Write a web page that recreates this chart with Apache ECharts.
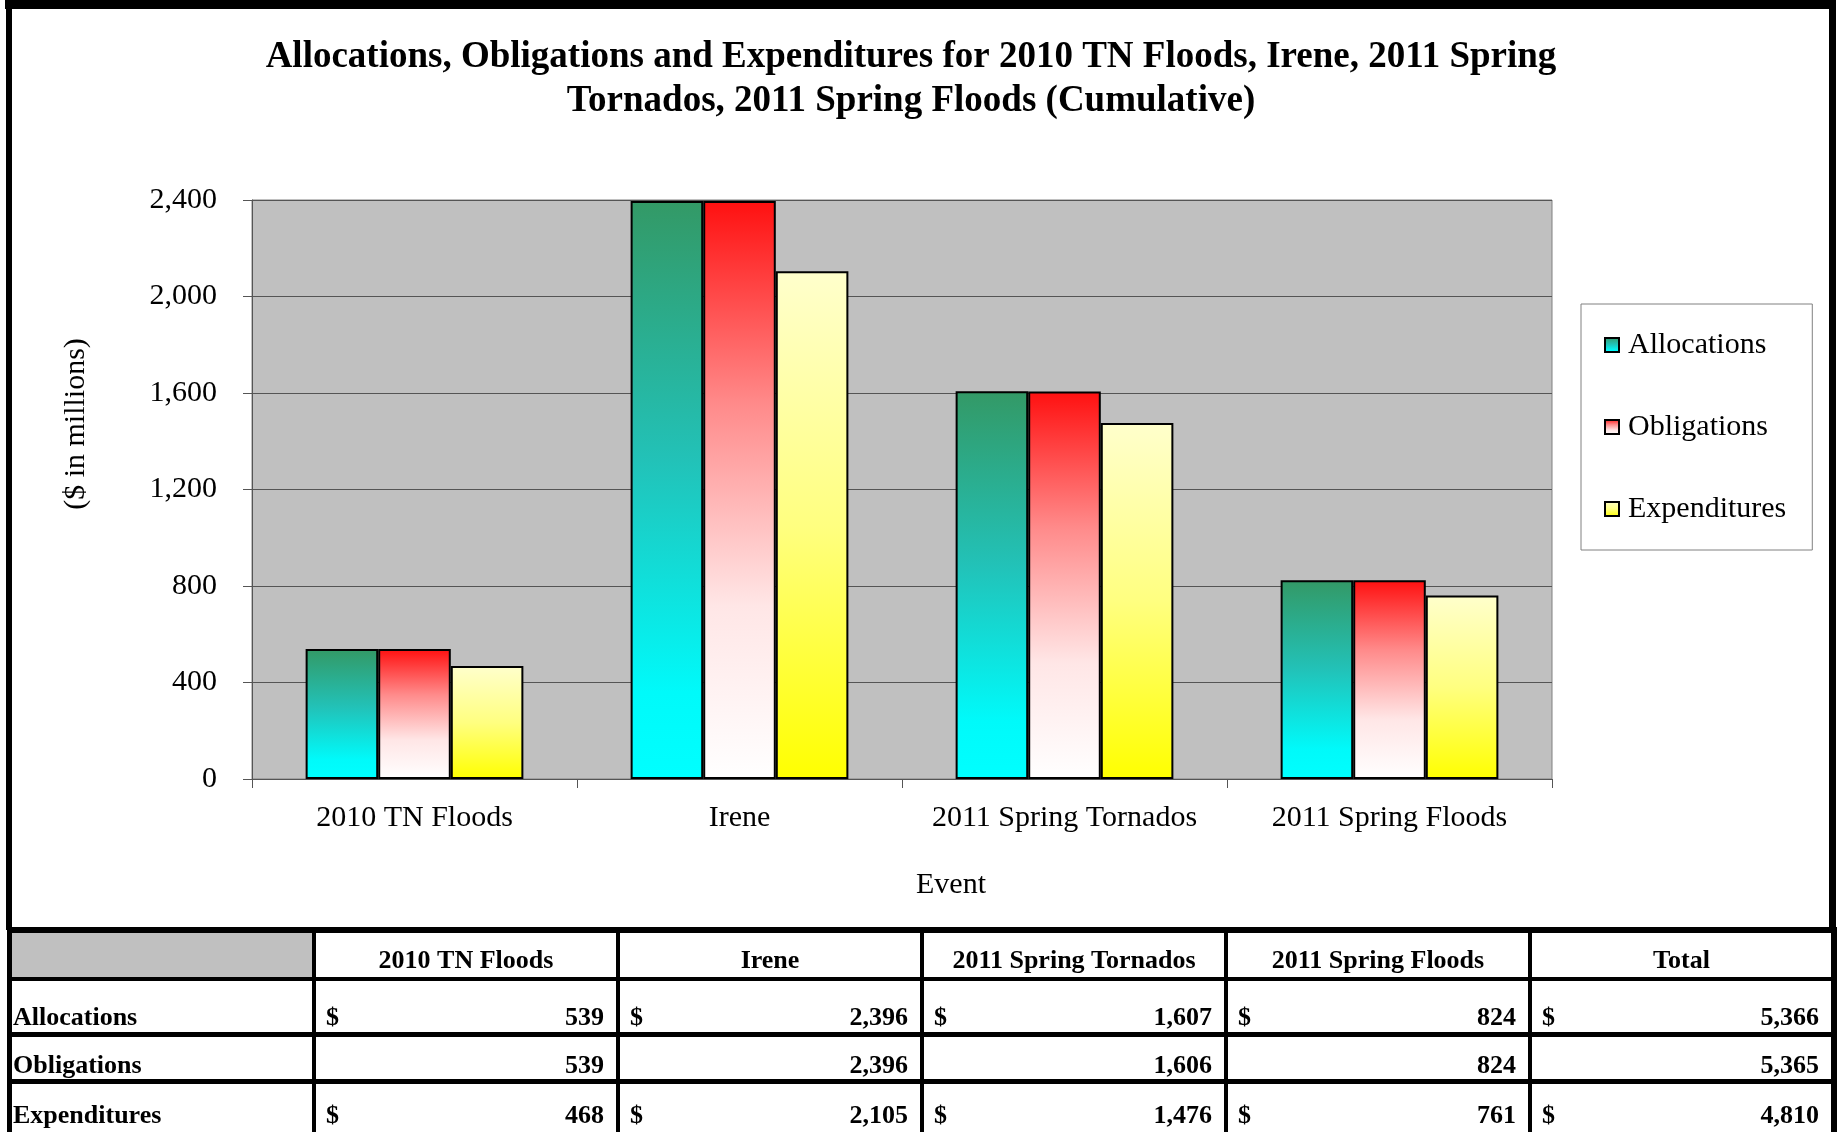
<!DOCTYPE html>
<html>
<head>
<meta charset="utf-8">
<script src="https://cdn.jsdelivr.net/npm/echarts@6/dist/echarts.min.js"></script>
<style>
  html, body { margin: 0; padding: 0; background: #fff; }
  #chart { width: 1837px; height: 1132px; }
</style>
</head>
<body>
<div id="chart"></div>
<script>
var events = ["2010 TN Floods", "Irene", "2011 Spring Tornados", "2011 Spring Floods"];
var allocations = [539, 2396, 1607, 824];
var obligations = [539, 2396, 1606, 824];
var expenditures = [468, 2105, 1476, 761];
var totals = [5366, 5365, 4810]; // Total column: allocations, obligations, expenditures
var tableHeaders = ["2010 TN Floods", "Irene", "2011 Spring Tornados", "2011 Spring Floods", "Total"];
var rowNames = ["Allocations", "Obligations", "Expenditures"];
var yTicks = [0, 400, 800, 1200, 1600, 2000, 2400];

var serif = "'Times New Roman', 'Liberation Serif', serif";

function fmt(v) {
  return v.toLocaleString("en-US");
}

function grad(stops) {
  return new echarts.graphic.LinearGradient(0, 0, 0, 1, stops.map(function (s) {
    return { offset: s[0], color: s[1] };
  }));
}

// table under the chart, drawn with graphic elements
var colEdges = [[7, 12], [312, 316], [616, 620], [920, 924], [1224, 1228], [1528, 1532], [1831, 1837]];
var rowText = [1018, 1066, 1116];
var tableEls = [];

tableEls.push({ type: "rect", shape: { x: 12, y: 933, width: 300, height: 44 }, style: { fill: "#C0C0C0" } });
[[927, 6], [977, 4], [1032, 5], [1079, 5]].forEach(function (l) {
  tableEls.push({ type: "rect", shape: { x: 7, y: l[0], width: 1830, height: l[1] }, style: { fill: "#000" } });
});
colEdges.forEach(function (c) {
  tableEls.push({ type: "rect", shape: { x: c[0], y: 927, width: c[1] - c[0], height: 205 }, style: { fill: "#000" } });
});

var boldFont = "bold 26px " + serif;
tableHeaders.forEach(function (h, i) {
  var left = colEdges[i + 1][1], right = colEdges[i + 2][0];
  tableEls.push({ type: "text", style: { text: h, x: (left + right) / 2, y: 961, align: "center", verticalAlign: "middle", font: boldFont, fill: "#000" } });
});

var rows = [allocations, obligations, expenditures];
rowNames.forEach(function (name, r) {
  tableEls.push({ type: "text", style: { text: name, x: 13, y: rowText[r], align: "left", verticalAlign: "middle", font: boldFont, fill: "#000" } });
  var vals = rows[r].concat([totals[r]]);
  vals.forEach(function (v, i) {
    var left = colEdges[i + 1][1], right = colEdges[i + 2][0];
    if (r != 1) {
      tableEls.push({ type: "text", style: { text: "$", x: left + 10, y: rowText[r], align: "left", verticalAlign: "middle", font: boldFont, fill: "#000" } });
    }
    tableEls.push({ type: "text", style: { text: fmt(v), x: right - 12, y: rowText[r], align: "right", verticalAlign: "middle", font: boldFont, fill: "#000" } });
  });
});

var myChart = echarts.init(document.getElementById("chart"), null, { renderer: "canvas" });

var option = {
  backgroundColor: "#fff",
  animation: false,
  textStyle: { fontFamily: serif, color: "#000" },
  title: {
    text: "Allocations, Obligations and Expenditures for 2010 TN Floods, Irene, 2011 Spring\nTornados, 2011 Spring Floods (Cumulative)",
    left: 911,
    textAlign: "center",
    top: 35,
    padding: 0,
    textStyle: { fontFamily: serif, fontWeight: "bold", fontSize: 37, lineHeight: 44, color: "#000" }
  },
  legend: {
    orient: "vertical",
    left: 1581,
    top: 304,
    padding: [26, 26, 26, 23],
    itemGap: 52,
    itemWidth: 14,
    itemHeight: 14,
    icon: "rect",
    borderColor: "#808080",
    borderWidth: 1,
    textStyle: { fontFamily: serif, fontSize: 30, lineHeight: 30, color: "#000", padding: [0, 0, 0, 4] },
    data: ["Allocations", "Obligations", "Expenditures"]
  },
  grid: {
    left: 252,
    top: 200,
    width: 1300,
    height: 579,
    show: true,
    backgroundColor: "#C0C0C0",
    borderColor: "#808080",
    borderWidth: 1
  },
  xAxis: {
    type: "category",
    data: events,
    axisLine: { lineStyle: { color: "#555", width: 1 } },
    axisTick: { show: true, interval: 0, length: 9, lineStyle: { color: "#555" } },
    axisLabel: { interval: 0, fontFamily: serif, fontSize: 30, color: "#000", margin: 24 }
  },
  yAxis: {
    type: "value",
    min: yTicks[0],
    max: yTicks[yTicks.length - 1],
    interval: 400,
    axisLine: { show: true, lineStyle: { color: "#555", width: 1 } },
    axisTick: { show: true, length: 9, lineStyle: { color: "#555" } },
    splitLine: { lineStyle: { color: "#555", width: 1 } },
    axisLabel: {
      fontFamily: serif,
      fontSize: 30,
      color: "#000",
      margin: 35,
      formatter: function (v) { return fmt(v); }
    }
  },
  series: [
    {
      name: "Allocations",
      type: "bar",
      barGap: "0%",
      barCategoryGap: "33%",
      itemStyle: {
        color: grad([[0, "#339966"], [0.45, "#22C2B8"], [0.85, "#00FAFA"], [1, "#00FFFF"]]),
        borderColor: "#000",
        borderWidth: 2
      },
      data: allocations
    },
    {
      name: "Obligations",
      type: "bar",
      barGap: "0%",
      barCategoryGap: "33%",
      itemStyle: {
        color: grad([[0, "#FF1010"], [0.35, "#FF8A8A"], [0.7, "#FFE6E6"], [1, "#FFFFFF"]]),
        borderColor: "#000",
        borderWidth: 2
      },
      data: obligations
    },
    {
      name: "Expenditures",
      type: "bar",
      barGap: "0%",
      barCategoryGap: "33%",
      itemStyle: {
        color: grad([[0, "#FFFFCC"], [0.5, "#FFFF80"], [1, "#FFFF00"]]),
        borderColor: "#000",
        borderWidth: 2
      },
      data: expenditures
    }
  ],
  graphic: [
    // outer frame of the chart area
    { type: "rect", shape: { x: 5, y: 0, width: 1831, height: 9 }, style: { fill: "#000" } },
    { type: "rect", shape: { x: 6, y: 0, width: 6, height: 930 }, style: { fill: "#000" } },
    { type: "rect", shape: { x: 1829, y: 0, width: 7, height: 930 }, style: { fill: "#000" } },
    {
      type: "text",
      x: 76,
      y: 424,
      rotation: Math.PI / 2,
      style: { text: "($ in millions)", align: "center", verticalAlign: "middle", font: "30px " + serif, fill: "#000" }
    },
    {
      type: "text",
      style: { text: "Event", x: 951, y: 885, align: "center", verticalAlign: "middle", font: "30px " + serif, fill: "#000" }
    }
  ].concat(tableEls)
};

myChart.setOption(option);
</script>
</body>
</html>
